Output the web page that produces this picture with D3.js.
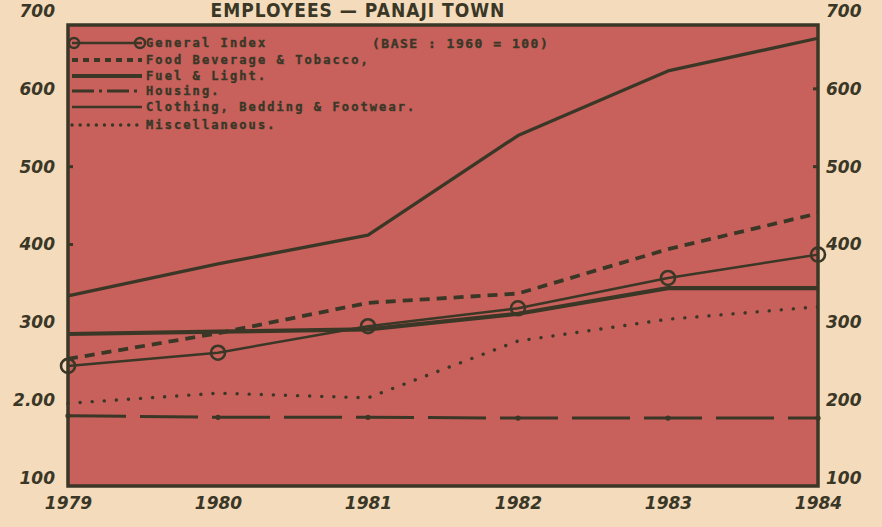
<!DOCTYPE html>
<html><head><meta charset="utf-8">
<script src="https://cdn.jsdelivr.net/npm/d3@7"></script>
<style>
html,body{margin:0;padding:0;background:#f4dbbb;}
svg{display:block;}
</style></head>
<body>
<svg id="chart" width="882" height="527"></svg>
<script>
// ---- data ----
const years = [1979, 1980, 1981, 1982, 1983, 1984];
const generalIndex = [244, 261, 295, 318, 357, 387];
const foodBeverage = [253, 286, 325, 337, 394, 440];
const fuelLight = [334, 375, 412, 540, 623, 665];
const housing = [180, 178, 178, 177, 177, 177];
const clothing = [285, 288, 291, 311, 344, 344];
const miscellaneous = [196, 209, 203, 276, 304, 320];
const tickValues = [100, 200, 300, 400, 500, 600, 700];
const leftTickLabels = ["100", "2.00", "300", "400", "500", "600", "700"];
const rightTickLabels = ["100", "200", "300", "400", "500", "600", "700"];
const yearLabels = ["1979", "1980", "1981", "1982", "1983", "1984"];
const legendNames = ["General Index", "Food Beverage & Tobacco,", "Fuel & Light.", "Housing.", "Clothing, Bedding & Footwear.", "Miscellaneous."];
const title = "EMPLOYEES — PANAJI TOWN";
const baseNote = "(BASE : 1960 = 100)";

// ---- layout ----
const ink = "#3a3727";
const svg = d3.select("#chart");
const frame = {left: 68, right: 818, top: 25, bottom: 486};
const x = d3.scalePoint().domain(years).range([frame.left, frame.right]);
const y = d3.scaleLinear().domain([100, 700]).range([478, 11]);

svg.append("rect").attr("width", 882).attr("height", 527).attr("fill", "#f4dbbb");

// title
svg.append("text").attr("x", 358).attr("y", 17).attr("text-anchor", "middle")
  .attr("font-family", "'Liberation Sans Narrow','DejaVu Sans Condensed',sans-serif")
  .attr("font-size", 19).attr("font-weight", "bold").attr("fill", ink).attr("letter-spacing", 1)
  .text(title);

// plot area
svg.append("rect").attr("x", frame.left).attr("y", frame.top)
  .attr("width", frame.right - frame.left).attr("height", frame.bottom - frame.top)
  .attr("fill", "#c8615c").attr("stroke", ink).attr("stroke-width", 3.5);

const g = svg.append("g");
const line = d3.line().x((d, i) => x(years[i])).y(d => y(d));

function drawSeries(vals, style) {
  g.append("path").datum(vals).attr("d", line).attr("fill", "none")
    .attr("stroke", ink).attr("stroke-width", style.w)
    .attr("stroke-dasharray", style.dash || null)
    .attr("stroke-linecap", style.cap || "butt")
    .attr("stroke-linejoin", "round");
}

const styles = [
  {w: 2.5},
  {w: 3.8, dash: "10 7"},
  {w: 3.3},
  {w: 3, dash: "58 14"},
  {w: 4.2},
  {w: 3.4, dash: "0.1 12", cap: "round"}
];
drawSeries(housing, styles[3]);
g.selectAll(".hdot").data(housing).join("circle")
  .attr("cx", (d, i) => x(years[i])).attr("cy", d => y(d)).attr("r", 2.6).attr("fill", ink);
drawSeries(miscellaneous, styles[5]);
drawSeries(clothing, styles[4]);
drawSeries(foodBeverage, styles[1]);
drawSeries(fuelLight, styles[2]);
drawSeries(generalIndex, styles[0]);
g.selectAll(".gcirc").data(generalIndex).join("circle")
  .attr("cx", (d, i) => x(years[i])).attr("cy", d => y(d)).attr("r", 7)
  .attr("fill", "none").attr("stroke", ink).attr("stroke-width", 2.6);

// legend
const legendRows = [43, 60, 76, 91, 107, 125];
const lg = svg.append("g");
legendNames.forEach((name, i) => {
  const yy = legendRows[i];
  const st = styles[i];
  lg.append("line").attr("x1", 72).attr("x2", 142).attr("y1", yy).attr("y2", yy)
    .attr("stroke", ink).attr("stroke-width", i === 2 ? 4 : (i === 4 ? 2.5 : st.w))
    .attr("stroke-dasharray", i === 3 ? "22 5 3 5" : (i === 1 ? "6 5" : (i === 5 ? "0.1 8" : null)))
    .attr("stroke-linecap", st.cap || "butt");
  if (i === 0) {
    [74, 140].forEach(cx => lg.append("circle").attr("cx", cx).attr("cy", yy).attr("r", 5)
      .attr("fill", "none").attr("stroke", ink).attr("stroke-width", 2.5));
  }
  lg.append("text").attr("x", 146).attr("y", yy + 4)
    .attr("font-family", "'DejaVu Sans Mono',monospace").attr("font-weight", "bold")
    .attr("font-size", 12).attr("letter-spacing", 2.1).attr("fill", ink)
    .attr("stroke", ink).attr("stroke-width", 0.4).text(name);
});
lg.append("text").attr("x", 372).attr("y", 48)
  .attr("font-family", "'DejaVu Sans Mono',monospace").attr("font-weight", "bold")
  .attr("font-size", 13).attr("letter-spacing", 1.5).attr("fill", ink)
  .attr("stroke", ink).attr("stroke-width", 0.4).text(baseNote);

// axes labels
const numFont = "'DejaVu Sans',sans-serif";
const leftAxis = d3.axisLeft(y).tickValues(tickValues).tickSize(0).tickPadding(0)
  .tickFormat((d, i) => leftTickLabels[i]);
const la = svg.append("g").attr("transform", "translate(55,0)").call(leftAxis);
const rightAxis = d3.axisRight(y).tickValues(tickValues).tickSize(0).tickPadding(0)
  .tickFormat((d, i) => rightTickLabels[i]);
const ra = svg.append("g").attr("transform", "translate(826,0)").call(rightAxis);
const bottomAxis = d3.axisBottom(x).tickSize(0).tickPadding(0)
  .tickFormat((d, i) => yearLabels[i]);
const ba = svg.append("g").attr("transform", "translate(0,497)").call(bottomAxis);
[la, ra, ba].forEach(a => {
  a.select(".domain").remove();
  a.selectAll("text").attr("font-family", numFont).attr("font-weight", "bold")
    .attr("font-style", "italic").attr("font-size", 17).attr("fill", ink);
});
// small tick marks on frame edges
svg.append("g").selectAll("line").data([400, 500]).join("line")
  .attr("x1", frame.left).attr("x2", frame.left + 5).attr("y1", d => y(d)).attr("y2", d => y(d))
  .attr("stroke", ink).attr("stroke-width", 3);
svg.append("g").selectAll("line").data([500, 600]).join("line")
  .attr("x1", frame.right - 5).attr("x2", frame.right).attr("y1", d => y(d)).attr("y2", d => y(d))
  .attr("stroke", ink).attr("stroke-width", 3);
</script>
</body></html>
